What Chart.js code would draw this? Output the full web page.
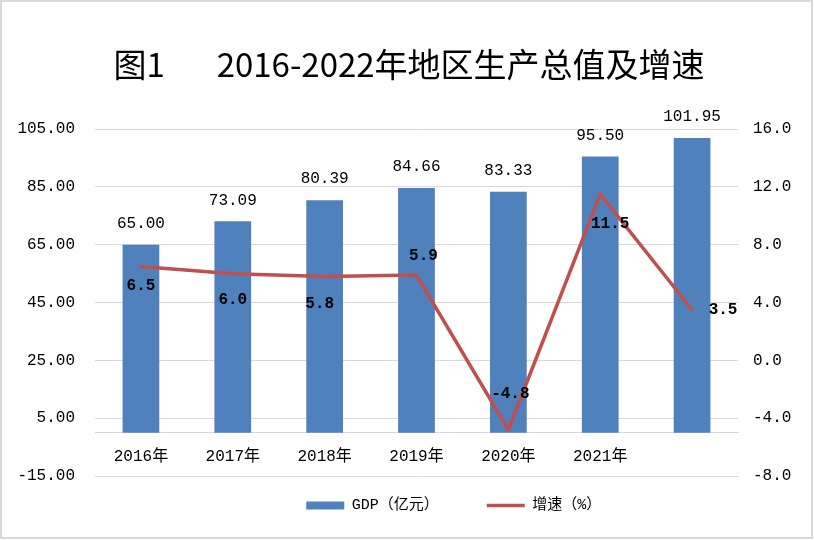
<!DOCTYPE html>
<html>
<head>
<meta charset="utf-8">
<script src="https://cdn.jsdelivr.net/npm/chart.js@4/dist/chart.umd.min.js"></script>
<style>
  body { margin: 0; background: #fff; }
  #wrap { position: absolute; left: 0; top: 0; width: 814px; height: 540px; }
</style>
</head>
<body>
<div id="wrap"><canvas id="gdpChart"></canvas></div>
<script>
// data
const categories = ['2016年', '2017年', '2018年', '2019年', '2020年', '2021年', ''];
const gdpValues = [65.00, 73.09, 80.39, 84.66, 83.33, 95.50, 101.95];
const growthRates = [6.5, 6.0, 5.8, 5.9, -4.8, 11.5, 3.5];
const leftTicks = [-15, 5, 25, 45, 65, 85, 105];
const rightTicks = [-8, -4, 0, 4, 8, 12, 16];

const numFont = '"Liberation Mono", "Noto Sans CJK SC"';

// white page with a thin grey frame
const frame = {
    id: 'frame',
    beforeDraw(chart) {
        const ctx = chart.ctx;
        ctx.save();
        ctx.fillStyle = '#fff';
        ctx.fillRect(0, 0, chart.width, chart.height);
        ctx.strokeStyle = '#d9d9d9';
        ctx.lineWidth = 2;
        ctx.strokeRect(1, 1, chart.width - 3, chart.height - 3);
        ctx.restore();
    }
};

// value labels on bars and line points
const valueLabels = {
    id: 'valueLabels',
    afterDatasetsDraw(chart, args, opts) {
        const ctx = chart.ctx;
        ctx.save();
        ctx.textAlign = 'center';
        ctx.textBaseline = 'middle';
        ctx.fillStyle = '#000';

        ctx.font = '16px ' + numFont;
        chart.getDatasetMeta(0).data.forEach((el, i) => {
            ctx.fillText(gdpValues[i].toFixed(2), el.x, el.y - 21);
        });

        ctx.font = 'bold 16px ' + numFont;
        chart.getDatasetMeta(1).data.forEach((el, i) => {
            const off = opts.offsets[i];
            ctx.fillText(growthRates[i].toFixed(1), el.x + off[0], el.y + off[1]);
        });
        ctx.restore();
    }
};

const ctx = document.getElementById('gdpChart').getContext('2d');
new Chart(ctx, {
    data: {
        labels: categories,
        datasets: [{
            type: 'bar',
            label: 'GDP（亿元）',
            data: gdpValues,
            backgroundColor: '#4F81BD',
            xAxisID: 'x',
            yAxisID: 'y',
            barPercentage: 0.4,
            categoryPercentage: 1.0,
            order: 1
        }, {
            type: 'line',
            label: '增速（%）',
            data: growthRates,
            borderColor: '#C0504D',
            backgroundColor: '#C0504D',
            borderWidth: 3.5,
            borderCapStyle: 'round',
            borderJoinStyle: 'round',
            pointRadius: 0,
            pointHoverRadius: 0,
            tension: 0,
            xAxisID: 'x',
            yAxisID: 'y1',
            order: 0
        }]
    },
    options: {
        responsive: true,
        maintainAspectRatio: false,
        animation: false,
        events: [],
        layout: { padding: { left: 0, right: 0, top: 0, bottom: 17 } },
        scales: {
            x: {
                type: 'category',
                position: { y: 0 },
                offset: true,
                grid: { display: false, drawTicks: false },
                border: { display: true, color: '#d9d9d9', width: 1 },
                ticks: { color: '#000', padding: 15, font: { family: numFont, size: 16 } }
            },
            x2: {
                type: 'category',
                position: 'bottom',
                grid: { display: false, drawTicks: false },
                border: { display: false },
                ticks: { display: false },
                afterFit: s => { s.height = 10; }
            },
            y: {
                position: 'left',
                min: -15,
                max: 105,
                afterBuildTicks: s => { s.ticks = leftTicks.map(v => ({ value: v })); },
                afterFit: s => { s.width = 95; },
                grid: { color: '#d9d9d9', lineWidth: 1, drawTicks: false },
                border: { display: false },
                ticks: {
                    color: '#000',
                    padding: 20,
                    font: { family: numFont, size: 16 },
                    callback: v => Number(v).toFixed(2)
                }
            },
            y1: {
                position: 'right',
                min: -8,
                max: 16,
                afterBuildTicks: s => { s.ticks = rightTicks.map(v => ({ value: v })); },
                afterFit: s => { s.width = 76; },
                grid: { display: false, drawTicks: false },
                border: { display: false },
                ticks: {
                    color: '#000',
                    padding: 15,
                    font: { family: numFont, size: 16 },
                    callback: v => Number(v).toFixed(1)
                }
            }
        },
        plugins: {
            title: {
                display: true,
                fullSize: false,
                text: '图1       2016-2022年地区生产总值及增速  ',
                color: '#000',
                font: { family: '"Noto Sans CJK SC"', size: 33, weight: 'normal', lineHeight: 1.2 },
                padding: { top: 45, bottom: 44.5 }
            },
            legend: {
                position: 'bottom',
                labels: {
                    color: '#000',
                    padding: 12,
                    usePointStyle: true,
                    pointStyleWidth: 38,
                    boxHeight: 8,
                    font: { family: numFont, size: 15 },
                    generateLabels: chart => {
                        const items = Chart.defaults.plugins.legend.labels.generateLabels(chart)
                            .sort((a, b) => a.datasetIndex - b.datasetIndex);
                        items[0].pointStyle = 'rect';
                        items[0].text += '    ';
                        items[1].pointStyle = 'line';
                        // invisible leading entry, nudges the legend to the right like the original
                        const spacer = {
                            text: '    ', fillStyle: 'rgba(0,0,0,0)', strokeStyle: 'rgba(0,0,0,0)',
                            lineWidth: 0, pointStyle: 'rect', hidden: false, datasetIndex: -1
                        };
                        return [spacer].concat(items);
                    }
                }
            },
            tooltip: { enabled: false },
            valueLabels: {
                offsets: [[0, 20], [0, 26], [-5, 27], [7, -19], [2, -36], [10, 30], [31, 0]]
            }
        }
    },
    plugins: [frame, valueLabels]
});
</script>
</body>
</html>
